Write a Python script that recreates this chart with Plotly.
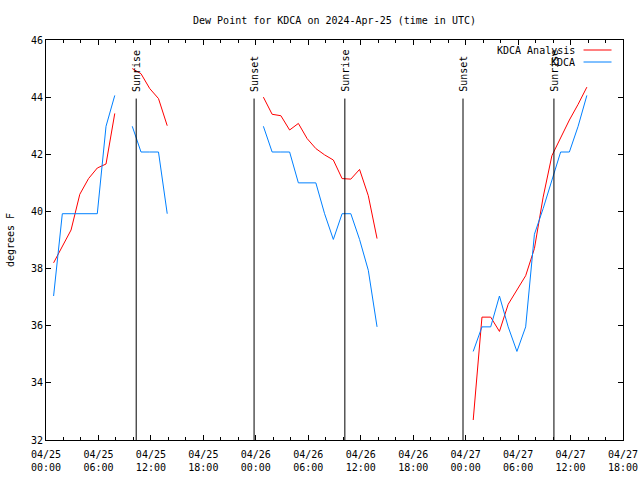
import plotly.graph_objects as go

FONT = "DejaVu Sans Mono"

# ---- data ----
times = [
    "2024-04-25 00:52", "2024-04-25 01:52", "2024-04-25 02:52", "2024-04-25 03:52",
    "2024-04-25 04:52", "2024-04-25 05:52", "2024-04-25 06:52", "2024-04-25 07:52",
    "2024-04-25 08:52", "2024-04-25 09:52", "2024-04-25 10:52", "2024-04-25 11:52",
    "2024-04-25 12:52", "2024-04-25 13:52", "2024-04-25 14:52",
    "2024-04-26 00:52", "2024-04-26 01:52", "2024-04-26 02:52", "2024-04-26 03:52",
    "2024-04-26 04:52", "2024-04-26 05:52", "2024-04-26 06:52", "2024-04-26 07:52",
    "2024-04-26 08:52", "2024-04-26 09:52", "2024-04-26 10:52", "2024-04-26 11:52",
    "2024-04-26 12:52", "2024-04-26 13:52", "2024-04-26 14:52",
    "2024-04-27 00:52", "2024-04-27 01:52", "2024-04-27 02:52", "2024-04-27 03:52",
    "2024-04-27 04:52", "2024-04-27 05:52", "2024-04-27 06:52", "2024-04-27 07:52",
    "2024-04-27 08:52", "2024-04-27 09:52", "2024-04-27 10:52", "2024-04-27 11:52",
    "2024-04-27 12:52", "2024-04-27 13:52",
]

analysis_dewpt = [
    38.2, 38.75, 39.35, 40.6, 41.15, 41.52, 41.66, 43.43, None,
    45.0, 44.82, 44.3, 43.95, 43.0, None,
    44.0, 43.4, 43.35, 42.85, 43.08, 42.55, 42.2, 41.98, 41.8,
    41.15, 41.13, 41.47, 40.55, 39.05, None,
    32.7, 36.3, 36.3, 35.8, 36.75, 37.25, 37.75, 38.7, 40.5,
    41.95, 42.6, 43.2, 43.75, 44.35,
]

obs_dewpt = [
    37.04, 39.92, 39.92, 39.92, 39.92, 39.92, 42.98, 44.06, None,
    42.98, 42.08, 42.08, 42.08, 39.92, None,
    42.98, 42.08, 42.08, 42.08, 41.0, 41.0, 41.0, 39.92, 39.02,
    39.92, 39.92, 39.02, 37.94, 35.96, None,
    35.1, 35.96, 35.96, 37.04, 35.96, 35.1, 35.96, 39.2, 40.1,
    41.1, 42.08, 42.08, 42.98, 44.06,
]

sun_event_times = ["2024-04-25 10:19", "2024-04-25 23:48", "2024-04-26 10:11",
                   "2024-04-26 23:42", "2024-04-27 10:06"]
sun_event_labels = ["Sunrise", "Sunset", "Sunrise", "Sunset", "Sunrise"]

tick_times = ["2024-04-25 00:00", "2024-04-25 06:00", "2024-04-25 12:00", "2024-04-25 18:00",
              "2024-04-26 00:00", "2024-04-26 06:00", "2024-04-26 12:00", "2024-04-26 18:00",
              "2024-04-27 00:00", "2024-04-27 06:00", "2024-04-27 12:00", "2024-04-27 18:00"]
tick_labels = ["04/25<br>00:00", "04/25<br>06:00", "04/25<br>12:00", "04/25<br>18:00",
               "04/26<br>00:00", "04/26<br>06:00", "04/26<br>12:00", "04/26<br>18:00",
               "04/27<br>00:00", "04/27<br>06:00", "04/27<br>12:00", "04/27<br>18:00"]

series_names = ["KDCA Analysis", "KDCA"]
series_colors = ["#ff0000", "#0080ff"]

# ---- figure ----
fig = go.Figure()
fig.add_trace(go.Scatter(x=times, y=analysis_dewpt, mode="lines", name=series_names[0],
                         line=dict(color=series_colors[0], width=1), showlegend=False))
fig.add_trace(go.Scatter(x=times, y=obs_dewpt, mode="lines", name=series_names[1],
                         line=dict(color=series_colors[1], width=1), showlegend=False))

# sunrise / sunset markers
for t, lab in zip(sun_event_times, sun_event_labels):
    fig.add_shape(type="line", xref="x", yref="y", x0=t, x1=t, y0=32, y1=43.95,
                  line=dict(color="black", width=1))
    fig.add_annotation(x=t, y=44.15, xref="x", yref="y", text=lab, textangle=-90,
                       showarrow=False, xanchor="center", yanchor="bottom", xshift=1,
                       font=dict(family=FONT, size=10, color="black"), borderpad=0)

# gnuplot-style legend (text left of sample line)
leg_y = [0.975, 0.945]
for name, col, yy in zip(series_names, series_colors, leg_y):
    fig.add_annotation(x=0.919, y=yy, xref="paper", yref="paper", text=name,
                       showarrow=False, xanchor="right", yanchor="middle",
                       font=dict(family=FONT, size=10, color="black"), borderpad=0)
    fig.add_shape(type="line", xref="paper", yref="paper", x0=0.9316, x1=0.9801,
                  y0=yy, y1=yy, line=dict(color=col, width=1))

# y axis title
fig.add_annotation(x=-0.0623, y=0.5, xref="paper", yref="paper", text="degrees F",
                   textangle=-90, showarrow=False, xanchor="center", yanchor="middle",
                   font=dict(family=FONT, size=10, color="black"))

fig.update_layout(
    width=640, height=480,
    margin=dict(l=46, r=17, t=40, b=40),
    paper_bgcolor="white", plot_bgcolor="white",
    title=dict(text="Dew Point for KDCA on 2024-Apr-25 (time in UTC)",
               x=0.5, xref="paper", y=1 - 20 / 480, yref="container",
               xanchor="center", yanchor="middle",
               font=dict(family=FONT, size=10, color="black")),
    font=dict(family=FONT, size=10, color="black"),
)

fig.update_xaxes(
    type="date", range=["2024-04-25 00:00", "2024-04-27 18:00"], automargin=False,
    tickmode="array", tickvals=tick_times, ticktext=tick_labels,
    ticks="inside", ticklen=5, tickcolor="black", tickwidth=1,
    showline=True, linecolor="black", linewidth=1, mirror="ticks",
    showgrid=False, zeroline=False, ticklabelstandoff=5,
    tickfont=dict(family=FONT, size=10, color="black"),
    minor=dict(dtick=2 * 3600 * 1000, tick0="2024-04-25 00:00", ticks="inside",
               ticklen=3, tickcolor="black", tickwidth=1, showgrid=False),
)
fig.update_yaxes(
    range=[32, 46], dtick=2, tick0=32, automargin=False,
    ticks="inside", ticklen=5, tickcolor="black", tickwidth=1,
    showline=True, linecolor="black", linewidth=1, mirror="ticks",
    showgrid=False, zeroline=False,
    tickfont=dict(family=FONT, size=10, color="black"),
)

fig.write_html(
    "out.html",
    config={"displayModeBar": False},
    post_script="document.body.style.margin='0';document.body.style.overflow='hidden';",
)
